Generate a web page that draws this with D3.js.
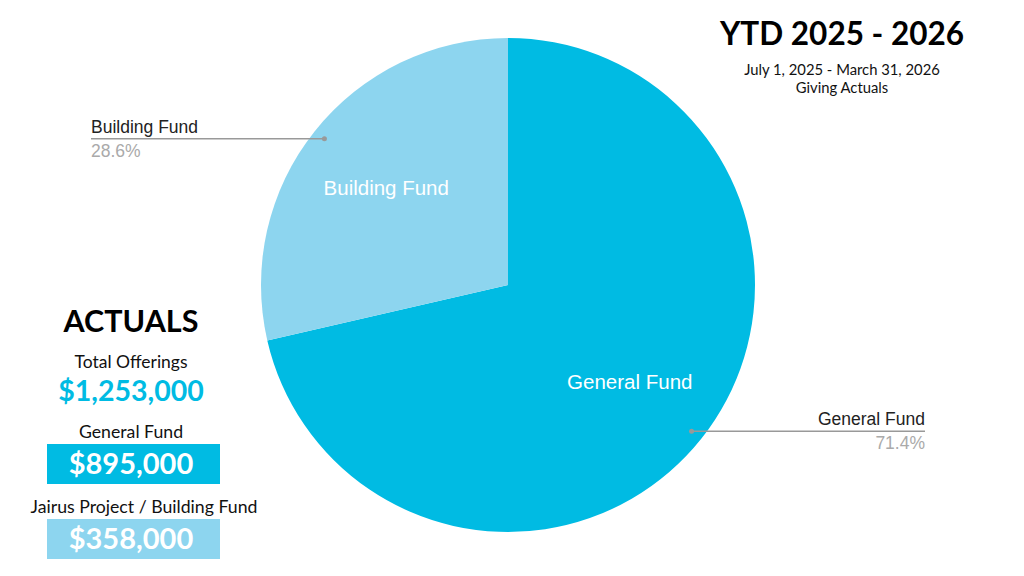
<!DOCTYPE html>
<html>
<head>
<meta charset="utf-8">
<script src="https://cdn.jsdelivr.net/npm/d3@7"></script>
<style>
  body { margin: 0; background: #fff; }
  svg { display: block; }
</style>
</head>
<body>
<script>
// chart data
const funds = ["General Fund", "Building Fund"];
const shares = [71.4, 28.6];
const fundColors = ["#00bbe3", "#8dd5ef"];

// side panel figures
const totalLabel = "Total Offerings";
const totalAmount = "$1,253,000";
const boxLabels = ["General Fund", "Jairus Project / Building Fund"];
const boxAmounts = ["$895,000", "$358,000"];

const W = 1024, H = 576;
const cx = 508, cy = 285, r = 247;

const svg = d3.select("body").append("svg")
    .attr("width", W)
    .attr("height", H);

const data = funds.map((f, i) => ({ name: f, value: shares[i], color: fundColors[i] }));

const pie = d3.pie().value(d => d.value).sort(null);
const arcs = pie(data);
const arc = d3.arc().innerRadius(0).outerRadius(r);

const g = svg.append("g").attr("transform", "translate(" + cx + "," + cy + ")");

g.selectAll("path").data(arcs).enter().append("path")
    .attr("d", arc)
    .attr("fill", d => d.data.color);

// labels inside the slices
const inner = d3.arc().innerRadius(r * 0.63).outerRadius(r * 0.63);
g.selectAll(".inlbl").data(arcs).enter().append("text")
    .attr("class", "inlbl")
    .attr("transform", d => {
        const c = inner.centroid(d);
        return "translate(" + c[0] + "," + c[1] + ")";
    })
    .attr("text-anchor", "middle")
    .attr("dy", "0.35em")
    .attr("fill", "#fff")
    .style("font-family", "Liberation Sans, Arial, sans-serif")
    .style("font-size", "20.5px")
    .text(d => d.data.name);

// leader lines outside
const dot = d3.arc().innerRadius(r * 0.95).outerRadius(r * 0.95);
const fmt = d => d3.format(".1f")(d) + "%";
const leaders = [
    { i: 0, x2: 925, anchor: "end" },
    { i: 1, x2: 91, anchor: "start" }
];
leaders.forEach(l => {
    const a = arcs[l.i];
    const p = dot.centroid(a);
    const px = cx + p[0], py = cy + p[1];
    svg.append("line")
        .attr("x1", px).attr("y1", py)
        .attr("x2", l.x2).attr("y2", py)
        .attr("stroke", "#999").attr("stroke-width", 1.5);
    svg.append("circle")
        .attr("cx", px).attr("cy", py).attr("r", 2.5)
        .attr("fill", "#999");
    svg.append("text")
        .attr("x", l.x2).attr("y", py - 6)
        .attr("text-anchor", l.anchor)
        .attr("fill", "#222")
        .style("font-family", "Liberation Sans, Arial, sans-serif")
        .style("font-size", "17.5px")
        .text(a.data.name);
    svg.append("text")
        .attr("x", l.x2).attr("y", py + 18)
        .attr("text-anchor", l.anchor)
        .attr("fill", "#aaa")
        .style("font-family", "Liberation Sans, Arial, sans-serif")
        .style("font-size", "17.5px")
        .text(fmt(a.data.value));
});

// title block
const font = "Lato, 'Open Sans', sans-serif";
svg.append("text")
    .attr("x", 842).attr("y", 45)
    .attr("text-anchor", "middle")
    .style("font-family", font).style("font-weight", "bold").style("font-size", "31.5px")
    .attr("fill", "#000")
    .text("YTD 2025 - 2026");
svg.append("text")
    .attr("x", 842).attr("y", 75)
    .attr("text-anchor", "middle")
    .style("font-family", font).style("font-size", "14.8px")
    .attr("fill", "#111")
    .text("July 1, 2025 - March 31, 2026");
svg.append("text")
    .attr("x", 842).attr("y", 93)
    .attr("text-anchor", "middle")
    .style("font-family", font).style("font-size", "14.8px")
    .attr("fill", "#111")
    .text("Giving Actuals");

// actuals panel
const px0 = 131;
svg.append("text")
    .attr("x", px0).attr("y", 332)
    .attr("text-anchor", "middle")
    .style("font-family", font).style("font-weight", "bold").style("font-size", "30.5px")
    .attr("fill", "#000")
    .text("ACTUALS");
svg.append("text")
    .attr("x", px0).attr("y", 368)
    .attr("text-anchor", "middle")
    .style("font-family", font).style("font-size", "17.5px")
    .attr("fill", "#111")
    .text(totalLabel);
svg.append("text")
    .attr("x", px0).attr("y", 401)
    .attr("text-anchor", "middle")
    .style("font-family", font).style("font-weight", "bold").style("font-size", "28.5px")
    .attr("fill", fundColors[0])
    .text(totalAmount);

const boxTop = [444, 519];
const labelX = [131, 144];
boxLabels.forEach((lbl, i) => {
    svg.append("text")
        .attr("x", labelX[i]).attr("y", boxTop[i] - 6)
        .attr("text-anchor", "middle")
        .style("font-family", font).style("font-size", "17.7px")
        .attr("fill", "#111")
        .text(lbl);
    svg.append("rect")
        .attr("x", 47).attr("y", boxTop[i])
        .attr("width", 173).attr("height", 40)
        .attr("fill", fundColors[i]);
    svg.append("text")
        .attr("x", px0).attr("y", boxTop[i] + 30)
        .attr("text-anchor", "middle")
        .style("font-family", font).style("font-weight", "bold").style("font-size", "29px")
        .attr("fill", "#fff")
        .text(boxAmounts[i]);
});
</script>
</body>
</html>
